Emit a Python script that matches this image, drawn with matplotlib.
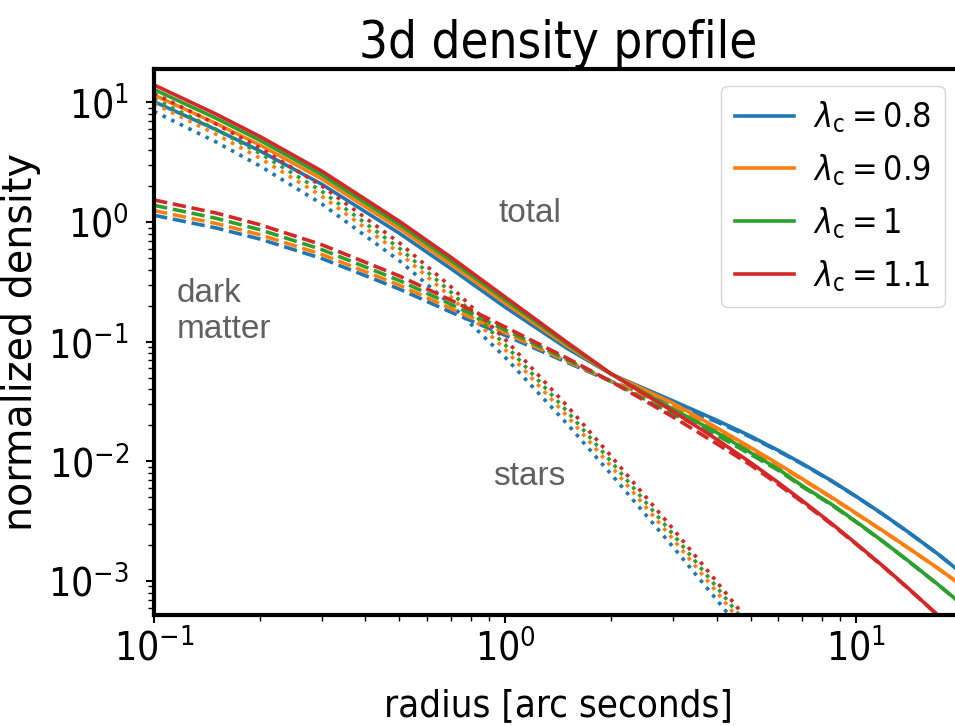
import matplotlib
matplotlib.use('Agg')
import matplotlib.pyplot as plt

plt.rcParams['font.family'] = 'DejaVu Sans'
plt.rcParams['font.stretch'] = 'condensed'
plt.rcParams['mathtext.fontset'] = 'custom'
plt.rcParams['mathtext.rm'] = 'DejaVu Sans:stretch=condensed'
plt.rcParams['mathtext.it'] = 'DejaVu Sans:italic:stretch=condensed'
plt.rcParams['mathtext.bf'] = 'DejaVu Sans:bold:stretch=condensed'
plt.rcParams['mathtext.sf'] = 'DejaVu Sans:stretch=condensed'

# radii where the profiles are tabulated
radius = [0.1, 0.15, 0.2, 0.3, 0.5, 0.7, 1.0, 1.5, 2.0, 3.0,
          4.0, 5.0, 6.0, 7.0, 8.5, 10.0, 12.0, 14.0, 17.0, 20.0]
lambda_c = ['0.8', '0.9', '1', '1.1']

# total density
total_08 = [10.14, 5.93, 3.94, 2.075, 0.805, 0.409, 0.1943, 0.0881, 0.0537, 0.0321,
            0.0221, 0.01626, 0.01233, 0.00962, 0.00689, 0.00509, 0.00356, 0.00259, 0.00170, 0.00116]
total_09 = [11.53, 6.68, 4.41, 2.30, 0.883, 0.446, 0.2101, 0.0923, 0.0538, 0.0307,
            0.01913, 0.01306, 0.00949, 0.00718, 0.00502, 0.00368, 0.00259, 0.00191, 0.00129, 0.000916]
total_10 = [12.83, 7.38, 4.83, 2.49, 0.953, 0.4795, 0.2241, 0.0958, 0.0540, 0.0274,
            0.01747, 0.01184, 0.00861, 0.00628, 0.00438, 0.00313, 0.00211, 0.00149, 0.000948, 0.000637]
total_11 = [14.0, 8.0, 5.2, 2.673, 1.014, 0.509, 0.2363, 0.0989, 0.0541, 0.0263,
            0.0153, 0.00977, 0.00664, 0.00472, 0.00303, 0.00205, 0.00131, 0.00088, 0.000525, 0.000335]

# dark matter density
dm_08 = [1.140, 0.893, 0.7218, 0.4967, 0.2751, 0.1769, 0.1130, 0.0672, 0.04667, 0.0302,
         0.0214, 0.01595, 0.01217, 0.00953, 0.00685, 0.00507, 0.00355, 0.00258, 0.0017, 0.00116]
dm_09 = [1.246, 0.9734, 0.7842, 0.5377, 0.2968, 0.1896, 0.1186, 0.0689, 0.04667, 0.0284,
         0.01832, 0.0127, 0.0093, 0.00708, 0.00497, 0.00365, 0.00258, 0.0019, 0.00129, 0.000915]
dm_10 = [1.381, 1.076, 0.8638, 0.5899, 0.3243, 0.2055, 0.1255, 0.0709, 0.04667, 0.0249,
         0.01658, 0.01145, 0.00841, 0.00617, 0.00433, 0.0031, 0.0021, 0.00148, 0.000945, 0.000636]
dm_11 = [1.530, 1.191, 0.9515, 0.6472, 0.3542, 0.2228, 0.1328, 0.0729, 0.04667, 0.02361,
         0.01407, 0.00933, 0.00641, 0.0046, 0.00298, 0.00203, 0.0013, 0.000875, 0.000523, 0.000334]

# stellar density
stars_08 = [8.41, 4.675, 2.951, 1.422, 0.4742, 0.2045, 0.07399, 0.02063, 0.007869, 0.001943,
            0.0007004, 0.0003101, 0.0001579, 8.86e-5, 4.24e-5, 2.27e-5, 1.11e-5, 6.1e-6, 2.84e-6, 1.48e-6]
stars_09 = [9.76, 5.43, 3.43, 1.651, 0.5505, 0.2374, 0.0859, 0.02395, 0.009136, 0.002256,
            0.000813, 0.00036, 0.0001833, 1.029e-4, 4.92e-5, 2.64e-5, 1.29e-5, 7.1e-6, 3.3e-6, 1.72e-6]
stars_10 = [10.71, 5.956, 3.76, 1.812, 0.6041, 0.2605, 0.09426, 0.02628, 0.010025, 0.002475,
            0.000892, 0.000395, 0.0002012, 1.129e-4, 5.4e-5, 2.89e-5, 1.41e-5, 7.8e-6, 3.6e-6, 1.89e-6]
stars_11 = [11.88, 6.606, 4.17, 2.009, 0.67, 0.2890, 0.1045, 0.02915, 0.01112, 0.002745,
            0.00099, 0.000438, 0.0002231, 1.252e-4, 6.0e-5, 3.2e-5, 1.57e-5, 8.6e-6, 4.0e-6, 2.09e-6]

totals = [total_08, total_09, total_10, total_11]
dms = [dm_08, dm_09, dm_10, dm_11]
stars = [stars_08, stars_09, stars_10, stars_11]
colors = ['C0', 'C1', 'C2', 'C3']

fig = plt.figure(figsize=(9.55, 7.26), dpi=100)
ax = fig.add_axes([0.1613, 0.1529, 0.846, 0.752])

for lam, tot, dm, st, c in zip(lambda_c, totals, dms, stars, colors):
    ax.plot(radius, tot, '-', color=c, lw=2.6, label=r'$\lambda_{\rm c} = %s$' % lam)
    ax.plot(radius, dm, '--', color=c, lw=2.6)
    ax.plot(radius, st, ':', color=c, lw=2.6)

ax.set_xscale('log')
ax.set_yscale('log')
ax.set_xlim(0.1, 20)
ax.set_ylim(5.2e-4, 19)

for s in ax.spines.values():
    s.set_linewidth(3)
ax.tick_params(which='major', labelsize=28, length=6, width=1.5)
ax.tick_params(axis='y', which='major', pad=12)
ax.tick_params(axis='x', which='major', pad=4)
ax.tick_params(which='minor', length=4, width=1.0)

ax.set_xlabel('radius [arc seconds]', fontsize=27.5, labelpad=14)
ax.set_ylabel('normalized density', fontsize=28.5, fontstretch='normal')
ax.yaxis.set_label_coords(-0.14, 0.5)
ax.set_title('3d density profile', fontsize=36.5, pad=6)

gray = '#606060'
ax.text(0.465, 0.736, 'total', transform=ax.transAxes, fontsize=24, color=gray,
        ha='center', va='center', family='Liberation Sans', fontstretch='normal')
ax.text(0.465, 0.254, 'stars', transform=ax.transAxes, fontsize=24, color=gray,
        ha='center', va='center', family='Liberation Sans', fontstretch='normal')
ax.text(0.0285, 0.556, 'dark\nmatter', transform=ax.transAxes, fontsize=24, color=gray,
        ha='left', va='center', linespacing=1.24, family='Liberation Sans',
        fontstretch='normal')

ax.legend(loc='upper right', fontsize=24.5, handlelength=1.75, handletextpad=0.55)

fig.savefig('out.png', dpi=100)
